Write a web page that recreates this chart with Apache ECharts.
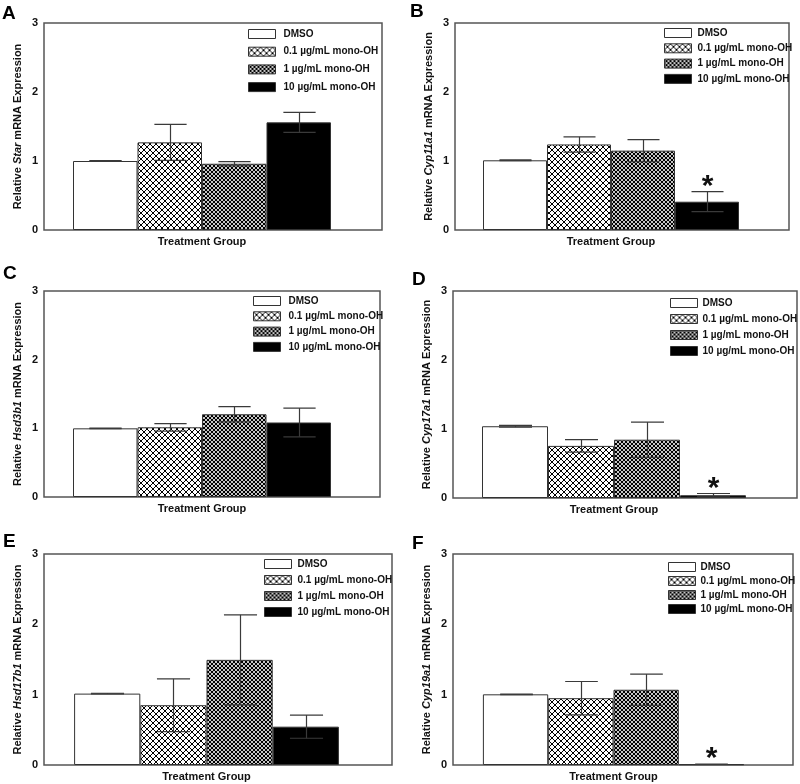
<!DOCTYPE html>
<html>
<head>
<meta charset="utf-8">
<script src="https://cdn.jsdelivr.net/npm/echarts@6/dist/echarts.min.js"></script>
<style>html,body{margin:0;padding:0;background:#fff}#c{width:800px;height:784px}</style>
</head>
<body>
<div id="c"></div>
<script>
// ---------- DATA ----------
const groups = ['DMSO', '0.1 µg/mL mono-OH', '1 µg/mL mono-OH', '10 µg/mL mono-OH'];
const genes = ['Star', 'Cyp11a1', 'Hsd3b1', 'Cyp17a1', 'Hsd17b1', 'Cyp19a1'];
const panelLetters = ['A', 'B', 'C', 'D', 'E', 'F'];
const xAxisTitle = 'Treatment Group';
const yTickMin = 0, yTickMax = 3, yTickStep = 1;

const starMean    = [1.00, 1.27, 0.96, 1.56];
const starErr     = [0.005, 0.26, 0.03, 0.145];
const cyp11a1Mean = [1.01, 1.24, 1.15, 0.41];
const cyp11a1Err  = [0.005, 0.11, 0.16, 0.145];
const hsd3b1Mean  = [1.00, 1.015, 1.205, 1.085];
const hsd3b1Err   = [0.005, 0.055, 0.11, 0.21];
const cyp17a1Mean = [1.04, 0.755, 0.845, 0.04];
const cyp17a1Err  = [0.012, 0.09, 0.255, 0.025];
const hsd17b1Mean = [1.015, 0.85, 1.495, 0.545];
const hsd17b1Err  = [0.005, 0.375, 0.64, 0.165];
const cyp19a1Mean = [1.005, 0.95, 1.07, 0.01];
const cyp19a1Err  = [0.003, 0.237, 0.222, 0.003];

const starSig    = [false, false, false, false];
const cyp11a1Sig = [false, false, false, true];
const hsd3b1Sig  = [false, false, false, false];
const cyp17a1Sig = [false, false, false, true];
const hsd17b1Sig = [false, false, false, false];
const cyp19a1Sig = [false, false, false, true];

const allMeans = [starMean, cyp11a1Mean, hsd3b1Mean, cyp17a1Mean, hsd17b1Mean, cyp19a1Mean];
const allErrs  = [starErr, cyp11a1Err, hsd3b1Err, cyp17a1Err, hsd17b1Err, cyp19a1Err];
const allSigs  = [starSig, cyp11a1Sig, hsd3b1Sig, cyp17a1Sig, hsd17b1Sig, cyp19a1Sig];

// ---------- LAYOUT / STYLE ----------
const layout = [
  {l:44,  t:23,  r:382, b:230, gc:202,   bw:64.5, lx:248, ly:34,  lg:17.7, tp:3, px:2,   py:4},
  {l:455, t:23,  r:789, b:230, gc:611,   bw:64,   lx:664, ly:33,  lg:15.3, tp:1, px:410, py:2},
  {l:44,  t:291, r:380, b:497, gc:202,   bw:64.5, lx:253, ly:301, lg:15.3, tp:3, px:3,   py:264},
  {l:453, t:291, r:797, b:498, gc:614,   bw:66,   lx:670, ly:303, lg:16,   tp:0, px:412, py:270},
  {l:44,  t:554, r:392, b:765, gc:206.5, bw:66.2, lx:264, ly:564, lg:16,   tp:1, px:3,   py:532},
  {l:453, t:554, r:793, b:765, gc:613.5, bw:65.3, lx:668, ly:567, lg:14,   tp:0, px:412, py:534}
];
const FONT = '"Liberation Sans", Arial, Helvetica, sans-serif';
const INK = '#111';
const EDGE = '#333';

function crossHatch(p, bg, fg) {
  const c = document.createElement('canvas');
  c.width = p; c.height = p;
  const ctx = c.getContext('2d');
  ctx.fillStyle = bg; ctx.fillRect(0, 0, p, p);
  ctx.fillStyle = fg;
  for (let i = 0; i < p; i++) {
    ctx.fillRect(i, i, 1, 1);
    ctx.fillRect(p - 1 - i, i, 1, 1);
  }
  return c;
}
const fills = [
  '#ffffff',
  {image: crossHatch(6, '#ffffff', '#000000'), repeat: 'repeat'},
  {image: crossHatch(4, '#c6c6c6', '#000000'), repeat: 'repeat'},
  '#000000'
];

const chart = echarts.init(document.getElementById('c'), null, {renderer: 'canvas'});
const grid = [], xAxis = [], yAxis = [], series = [], legend = [], graphic = [];

genes.forEach((gene, i) => {
  const L = layout[i];
  const fg = 2 * i, bg = 2 * i + 1;
  const half = 150;
  grid.push({left: L.l, top: L.t, width: L.r - L.l, height: L.b - L.t, show: true,
             borderColor: '#555', borderWidth: 1.5, backgroundColor: 'transparent'});
  grid.push({left: L.gc - half, top: L.t, width: 2 * half, height: L.b - L.t});
  xAxis.push({gridIndex: fg, type: 'category', data: [''], show: false});
  xAxis.push({gridIndex: bg, type: 'category', data: [xAxisTitle],
    axisLine: {show: false}, axisTick: {show: false}, axisLabel: {show: false},
    name: xAxisTitle, nameLocation: 'middle', nameGap: 6,
    nameTextStyle: {fontFamily: FONT, fontWeight: 'bold', fontSize: 11, color: INK}});
  yAxis.push({gridIndex: fg, type: 'value', min: yTickMin, max: yTickMax, interval: yTickStep,
    axisLine: {show: false}, axisTick: {show: false}, splitLine: {show: false},
    axisLabel: {fontFamily: FONT, fontWeight: 'bold', fontSize: 11, color: INK, margin: 6},
    name: '{a|Relative }{b|' + gene + '}{a| mRNA Expression}',
    nameLocation: 'middle', nameGap: 21, nameRotate: 90,
    nameTextStyle: {rich: {
      a: {fontFamily: FONT, fontWeight: 'bold', fontSize: 11, color: INK},
      b: {fontFamily: FONT, fontWeight: 'bold', fontStyle: 'italic', fontSize: 11, color: INK}
    }}});
  yAxis.push({gridIndex: bg, type: 'value', min: yTickMin, max: yTickMax, interval: yTickStep, show: false});

  groups.forEach((g, k) => {
    series.push({
      type: 'bar', name: g, xAxisIndex: bg, yAxisIndex: bg,
      data: [allMeans[i][k]], barWidth: L.bw, barGap: '0%', animation: false,
      itemStyle: {color: fills[k], borderColor: EDGE, borderWidth: 1},
      emphasis: {disabled: true}
    });
  });

  const errData = groups.map((g, k) => [0, allMeans[i][k], allErrs[i][k], k, allSigs[i][k] ? 1 : 0]);
  series.push({
    type: 'custom', xAxisIndex: bg, yAxisIndex: bg, data: errData, z: 5, animation: false,
    encode: {x: 0, y: 1},
    renderItem: (params, api) => {
      const mean = api.value(1), err = api.value(2), k = api.value(3), sig = api.value(4);
      const c0 = api.coord([0, mean]);
      const cx = Math.round(c0[0] + (k - 1.5) * L.bw) + 0.5;
      const yt = api.coord([0, mean + err])[1];
      const yb = api.coord([0, Math.max(0, mean - err)])[1];
      const hw = L.bw / 4;
      const st = {stroke: '#3a3a3a', lineWidth: 1.2};
      const ch = [
        {type: 'line', shape: {x1: cx, y1: yt, x2: cx, y2: yb}, style: st},
        {type: 'line', shape: {x1: cx - hw, y1: yt, x2: cx + hw, y2: yt}, style: st},
        {type: 'line', shape: {x1: cx - hw, y1: yb, x2: cx + hw, y2: yb}, style: st}
      ];
      if (sig) {
        ch.push({type: 'text', x: cx, y: yt - 5, style: {text: '*', fill: INK,
          font: 'bold 30px ' + FONT, align: 'center', verticalAlign: 'middle'}});
      }
      return {type: 'group', children: ch};
    }
  });

  legend.push({
    orient: 'vertical', left: L.lx, top: L.ly - 5, itemWidth: 27, itemHeight: 9,
    itemGap: L.lg - 10, icon: 'rect', selectedMode: false, data: groups, padding: 0,
    itemStyle: {borderColor: EDGE, borderWidth: 1},
    textStyle: {fontFamily: FONT, fontWeight: 'bold', fontSize: 10, color: INK, padding: [0, 0, 0, L.tp]}
  });

  graphic.push({type: 'text', left: L.px, top: L.py,
    style: {text: panelLetters[i], font: 'bold 19px ' + FONT, fill: '#000'}});
});

chart.setOption({animation: false, grid, xAxis, yAxis, series, legend, graphic});
</script>
</body>
</html>
